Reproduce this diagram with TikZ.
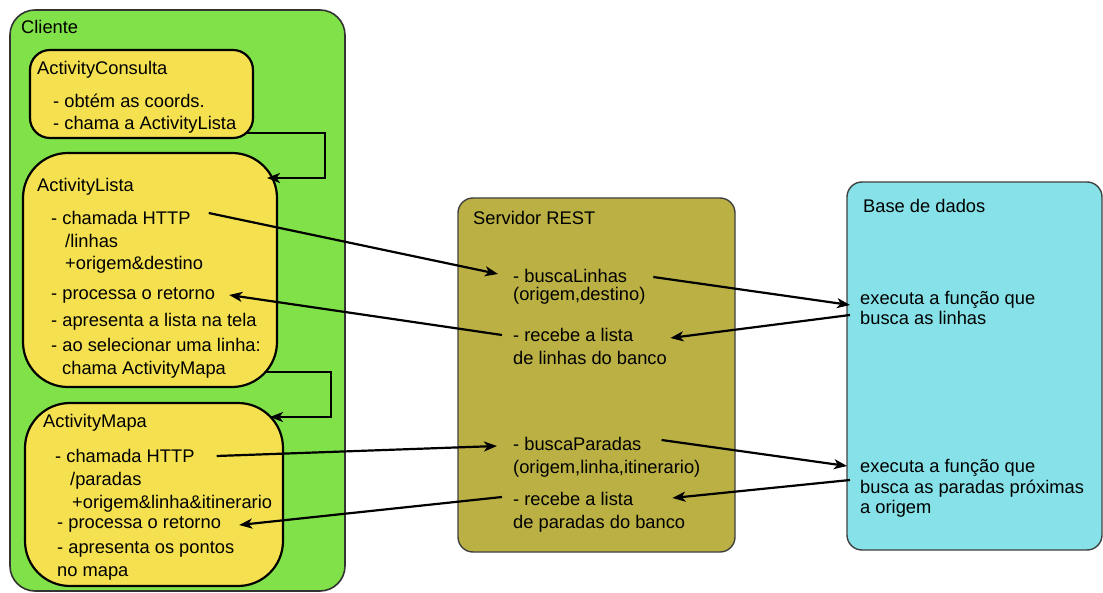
\documentclass[tikz,border=0pt]{standalone}
\usepackage{fontspec}
\setmainfont{Liberation Sans}
\usetikzlibrary{arrows.meta}
\definecolor{clientegreen}{RGB}{128,226,72}
\definecolor{activyellow}{RGB}{245,225,80}
\definecolor{restolive}{RGB}{186,176,68}
\definecolor{bancocyan}{RGB}{134,226,232}
\begin{document}
\begin{tikzpicture}[
	x=1pt, y=-1pt,
	frame/.style={draw, anchor=north west, inner sep=0pt, outer sep=0pt},
	activ/.style={frame, fill=activyellow, line width=2.2pt, draw=black},
	txt/.style={anchor=base west, inner sep=3pt, text height=12pt, text depth=0pt, font=\fontsize{18.3}{22}\selectfont},
	flow/.style={draw, line width=2.2pt, -{Stealth[length=13pt, width=10pt, inset=3.5pt]}}
]
\useasboundingbox (0,0) rectangle (1103,593);

% caixas
\node[frame, fill=clientegreen, draw=black!80, line width=1.6pt, rounded corners=25pt, minimum width=335pt, minimum height=581pt] (cliente) at (10,10) {};
\node[activ, rounded corners=20pt, minimum width=223pt, minimum height=88pt] (consulta) at (30,50) {};
\node[activ, rounded corners=45pt, minimum width=254pt, minimum height=234pt] (lista) at (23,153) {};
\node[activ, rounded corners=45pt, minimum width=258pt, minimum height=183pt] (mapa) at (25,403) {};
\node[frame, fill=restolive, draw=black!75, line width=1.4pt, rounded corners=15pt, minimum width=277pt, minimum height=354pt] (servidor) at (458,198) {};
\node[frame, fill=bancocyan, draw=black!75, line width=1.4pt, rounded corners=15pt, minimum width=255pt, minimum height=368pt] (banco) at (847,182) {};

% Cliente
\node[txt] (tcliente) at (18,34) {Cliente};
\node[txt] (tconsulta) at (34,75) {ActivityConsulta};
\node[txt] (ccoords) at (50,108) {- obtém as coords.};
\node[txt] (cchama) at (50,130) {- chama a ActivityLista};
\node[txt] (tlista) at (34,192) {ActivityLista};
\node[txt] (lhttp) at (48,225) {- chamada HTTP};
\node[txt] (llinhas) at (62,248) {/linhas};
\node[txt] (lorig) at (62,270) {+origem\&destino};
\node[txt] (lproc) at (48,300) {- processa o retorno};
\node[txt] (lapres) at (48,327) {- apresenta a lista na tela};
\node[txt] (lsel) at (48,352) {- ao selecionar uma linha:};
\node[txt] (lchama) at (59,375) {chama ActivityMapa};
\node[txt] (tmapa) at (40,428) {ActivityMapa};
\node[txt] (mhttp) at (52,462) {- chamada HTTP};
\node[txt] (mparadas) at (67,485) {/paradas};
\node[txt] (morig) at (69,508) {+origem\&linha\&itinerario};
\node[txt] (mproc) at (54,528) {- processa o retorno};
\node[txt] (mapres) at (54,553) {- apresenta os pontos};
\node[txt] (mno) at (54,576) {no mapa};

% Servidor REST
\node[txt] (tservidor) at (470,225) {Servidor REST};
\node[txt] (sbl) at (510,283) {- buscaLinhas};
\node[txt] (sblarg) at (510,301) {(origem,destino)};
\node[txt] (srl) at (510,342) {- recebe a lista};
\node[txt] (srlb) at (510,365) {de linhas do banco};
\node[txt] (sbp) at (510,450) {- buscaParadas};
\node[txt] (sbparg) at (510,473) {(origem,linha,itinerario)};
\node[txt] (srp) at (510,505) {- recebe a lista};
\node[txt] (srpb) at (510,528) {de paradas do banco};

% Base de dados
\node[txt] (tbanco) at (860,213) {Base de dados};
\node[txt] (bdl1) at (857,305) {executa a função que};
\node[txt] (bdl2) at (857,325) {busca as linhas};
\node[txt] (bdp1) at (857,472) {executa a função que};
\node[txt] (bdp2) at (857,493) {busca as paradas próximas};
\node[txt] (bdp3) at (857,513) {a origem};

% ligacoes
\draw[flow] ([shift={(-6,-5)}]consulta.south east) -| ([shift={(48,25)}]lista.north east) -- ([shift={(-10,25)}]lista.north east);
\draw[flow] ([shift={(-12,-15)}]lista.south east) -| ([shift={(48,14)}]mapa.north east) -- ([shift={(-13,14)}]mapa.north east);
\draw[flow] ([shift={(15,-6)}]lhttp.east) -- ([shift={(-12,-3)}]sbl.west);
\draw[flow] ([shift={(-8,-1)}]srl.west) -- ([shift={(11,1)}]lproc.east);
\draw[flow] ([shift={(23,0)}]sbl.east) -- ([shift={(-7,6)}]bdl1.west);
\draw[flow] ([shift={(-7,-4)}]bdl2.west) -- ([shift={(34,2)}]srl.east);
\draw[flow] ([shift={(19,0)}]mhttp.east) -- ([shift={(-13,2)}]sbp.west);
\draw[flow] ([shift={(-8,-2)}]srp.west) -- ([shift={(15,3)}]mproc.east);
\draw[flow] ([shift={(17,-4)}]sbp.east) -- ([shift={(-10,0)}]bdp1.west);
\draw[flow] ([shift={(-7,-7)}]bdp2.west) -- ([shift={(36,-1)}]srp.east);
\end{tikzpicture}
\end{document}
